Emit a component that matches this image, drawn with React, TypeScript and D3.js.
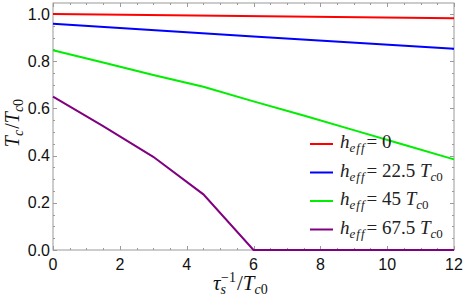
import React, { useEffect, useRef } from 'react';
import * as d3 from 'd3';

// x values (tau_s^-1 / Tc0) and Tc/Tc0 for each h_eff curve
const xsRed = [0, 12];
const red = [1.0, 0.982];
const xsBlue = [0, 6, 12];
const blue = [0.959, 0.905, 0.853];
const xsGreen = [0, 1.5, 3, 4.5, 6, 7.5, 9, 10.5, 12];
const green = [0.847, 0.795, 0.742, 0.692, 0.63, 0.57, 0.508, 0.446, 0.384];
const xsPurple = [0, 1.5, 3, 4.5, 6, 12];
const purple = [0.65, 0.525, 0.395, 0.236, 0, 0];

const xTicks = [0, 2, 4, 6, 8, 10, 12];
const yTicks = [0, 0.2, 0.4, 0.6, 0.8, 1.0];
const legendValues = ['0', '22.5', '45', '67.5'];

const App = () => {
  const ref = useRef<SVGSVGElement>(null);

  useEffect(() => {
    if (!ref.current) return;
    const svg = d3.select(ref.current);
    svg.selectAll('*').remove();

    const left = 53, right = 454, top = 3, bottom = 250;
    const frame = '#9a9a9a';

    const x = d3.scaleLinear().domain([0, 12]).range([left, right]);
    const y = d3.scaleLinear().domain([0, 1.047]).range([bottom, top]);

    // frame
    svg.append('rect')
      .attr('x', left).attr('y', top)
      .attr('width', right - left).attr('height', bottom - top)
      .attr('fill', 'none').attr('stroke', frame).attr('stroke-width', 1);

    // ticks inside on all four sides
    const ticks = svg.append('g').attr('stroke', frame).attr('stroke-width', 1);
    d3.range(0, 12.01, 0.5).forEach(v => {
      const major = Math.abs(v % 2) < 1e-6;
      const len = major ? 4 : 2;
      const px = Math.round(x(v)) + 0.5;
      ticks.append('line').attr('x1', px).attr('x2', px).attr('y1', bottom).attr('y2', bottom - len);
      ticks.append('line').attr('x1', px).attr('x2', px).attr('y1', top).attr('y2', top + len);
    });
    d3.range(0, 1.046, 0.05).forEach(v => {
      const major = Math.abs(Math.round(v * 100) % 20) < 1e-6;
      const len = major ? 4 : 2;
      const py = Math.round(y(v)) + 0.5;
      ticks.append('line').attr('y1', py).attr('y2', py).attr('x1', left).attr('x2', left + len);
      ticks.append('line').attr('y1', py).attr('y2', py).attr('x1', right).attr('x2', right - len);
    });

    // tick labels
    const labelFont = '"Liberation Sans", Arial, sans-serif';
    svg.append('g').selectAll('text').data(xTicks).enter().append('text')
      .attr('x', d => x(d)).attr('y', 270)
      .attr('text-anchor', 'middle')
      .style('font-family', labelFont).style('font-size', '16px').style('fill', '#111')
      .text(d => d);
    svg.append('g').selectAll('text').data(yTicks).enter().append('text')
      .attr('x', 50).attr('y', d => y(d) + 5.5)
      .attr('text-anchor', 'end')
      .style('font-family', labelFont).style('font-size', '16px').style('fill', '#111')
      .text(d => d.toFixed(1));

    // curves
    const line = d3.line<[number, number]>().x(d => x(d[0])).y(d => y(d[1]));
    const series: [number[], number[], string][] = [
      [xsPurple, purple, '#800080'],
      [xsGreen, green, '#00ee00'],
      [xsBlue, blue, '#0000ff'],
      [xsRed, red, '#ff0000'],
    ];
    series.forEach(([xs, ys, c]) => {
      svg.append('path')
        .datum(xs.map((v, i) => [v, ys[i]] as [number, number]))
        .attr('d', line)
        .attr('fill', 'none').attr('stroke', c).attr('stroke-width', 2);
    });

    const serif = '"Liberation Serif", "Times New Roman", serif';

    // legend
    const legendColors = ['#ff0000', '#0000ff', '#00ee00', '#800080'];
    legendValues.forEach((v, i) => {
      const ly = 144 + i * 28.5;
      svg.append('line')
        .attr('x1', 310).attr('x2', 333).attr('y1', ly).attr('y2', ly)
        .attr('stroke', legendColors[i]).attr('stroke-width', 2);
      const t = svg.append('text')
        .attr('x', 340).attr('y', ly + 4)
        .style('font-family', serif).style('font-size', '19px').style('fill', '#222');
      t.append('tspan').style('font-style', 'italic').text('h');
      t.append('tspan').style('font-style', 'italic').style('font-size', '13px')
        .style('letter-spacing', '1px').attr('dy', 4).text('eff');
      t.append('tspan').attr('dy', -4).attr('dx', 1).text(v === '0' ? '= 0' : `= ${v} `);
      if (v !== '0') {
        t.append('tspan').style('font-style', 'italic').text('T');
        t.append('tspan').style('font-style', 'italic').style('font-size', '13px').attr('dy', 4).text('c');
        t.append('tspan').style('font-size', '13px').text('0');
      }
    });

    // y axis label
    const yl = svg.append('text')
      .attr('transform', 'translate(19,123) rotate(-90)')
      .attr('text-anchor', 'middle')
      .style('font-family', serif).style('font-size', '20px').style('fill', '#111');
    yl.append('tspan').style('font-style', 'italic').text('T');
    yl.append('tspan').style('font-style', 'italic').style('font-size', '14px').attr('dy', 4).text('c');
    yl.append('tspan').attr('dy', -4).attr('dx', 1).text('/');
    yl.append('tspan').style('font-style', 'italic').text('T');
    yl.append('tspan').style('font-style', 'italic').style('font-size', '14px').attr('dy', 4).text('c');
    yl.append('tspan').style('font-size', '14px').text('0');

    // x axis label
    const xl = svg.append('text')
      .attr('x', 213).attr('y', 290)
      .style('font-family', serif).style('font-size', '21px').style('fill', '#111');
    xl.append('tspan').style('font-style', 'italic').text('τ');
    xl.append('tspan').style('font-style', 'italic').style('font-size', '14px').attr('dy', 4).text('s');
    xl.append('tspan').style('font-size', '14px').attr('dx', -5).attr('dy', -12).text('−1');
    xl.append('tspan').attr('dy', 8).attr('dx', 1).text('/');
    xl.append('tspan').style('font-style', 'italic').text('T');
    xl.append('tspan').style('font-style', 'italic').style('font-size', '14px').attr('dy', 4).text('c');
    xl.append('tspan').style('font-size', '14px').text('0');
  }, []);

  return (
    <svg
      ref={ref}
      width={463}
      height={299}
      style={{ position: 'absolute', left: 0, top: 0, background: '#fff' }}
    />
  );
};

export default App;
